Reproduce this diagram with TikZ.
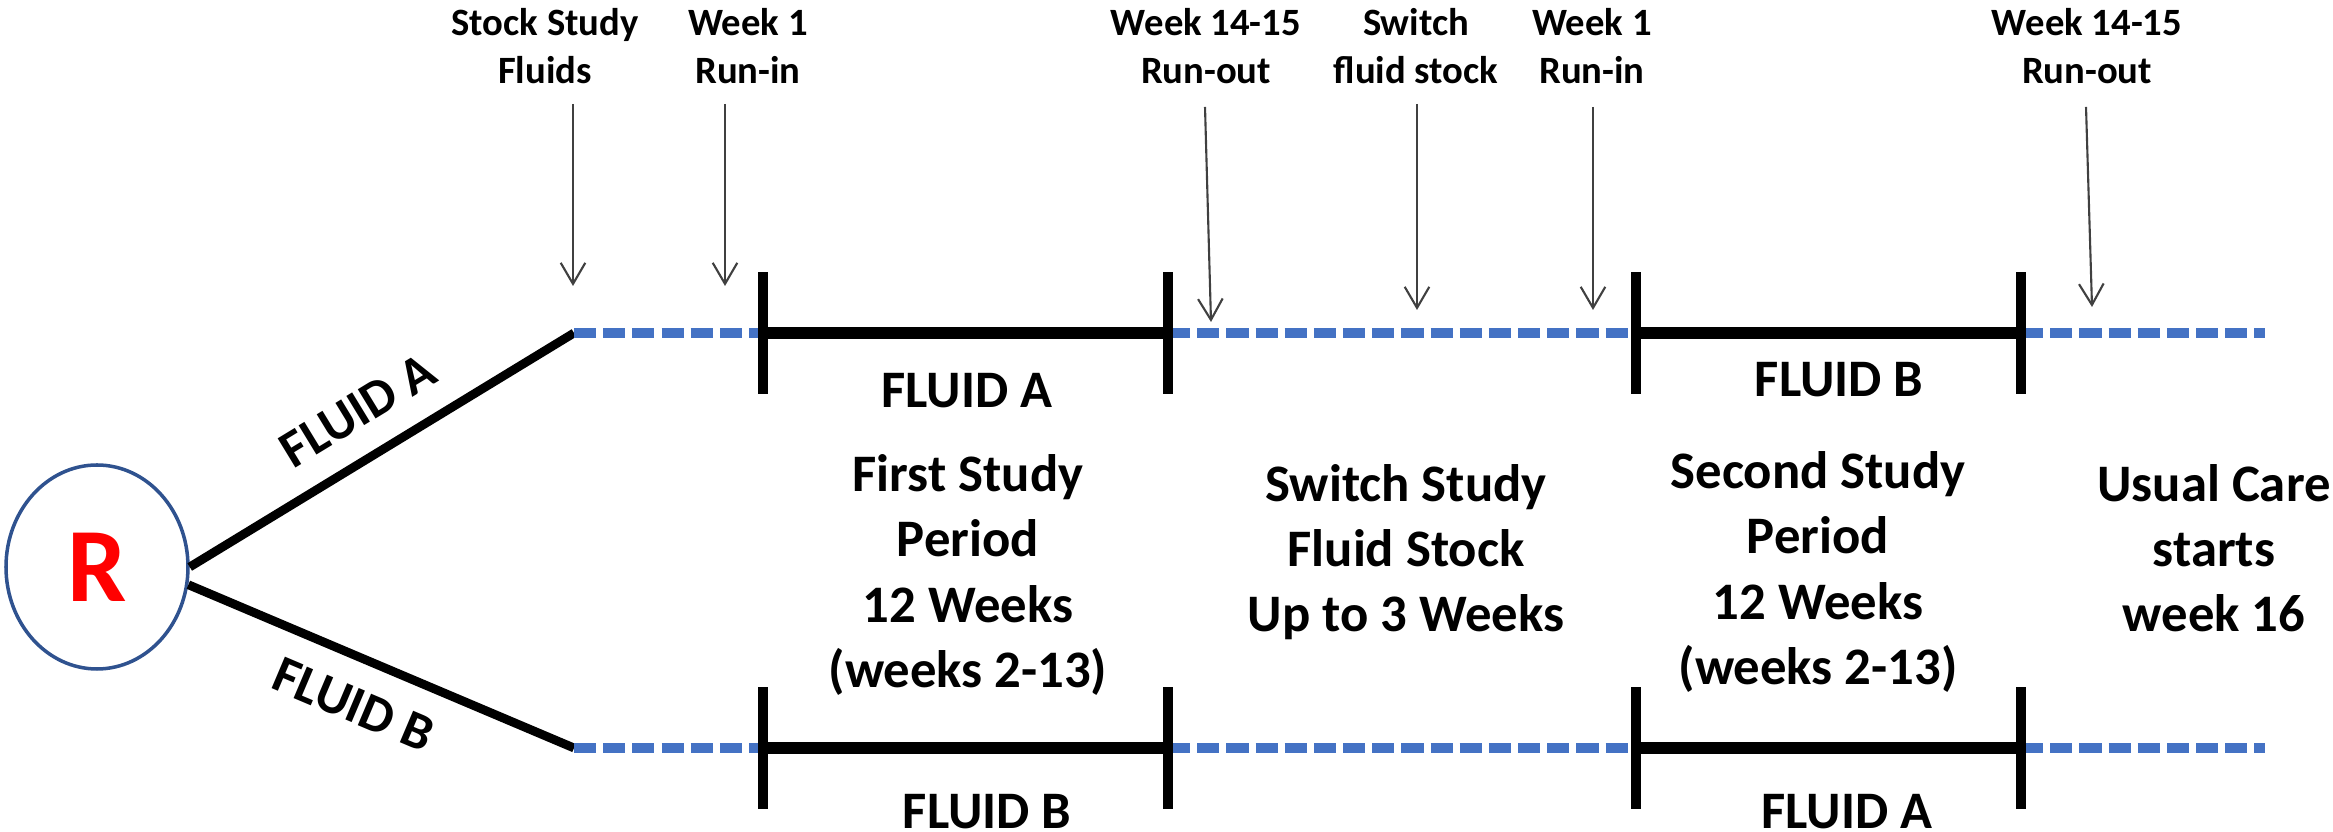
\documentclass[tikz,border=0pt]{standalone}
\usepackage{fontspec}
\setmainfont{Carlito}
\usetikzlibrary{arrows.meta,shapes.geometric}
\definecolor{fluidblue}{HTML}{4472C4}
\definecolor{ringblue}{HTML}{2F528F}

\tikzset{
  period/.style={line width=3.4pt},
  gapline/.style={line width=2.8pt,fluidblue,dash pattern=on 6.3pt off 2pt},
  tickmark/.style={line width=3pt},
  branch/.style={line width=2.5pt},
  marker/.style={draw=black!75,line width=.6pt,-{Straight Barb[length=6pt,width=7pt]}},
  toplabel/.style={align=center,font=\fontsize{11}{13.7}\selectfont\bfseries},
  midlabel/.style={align=center,font=\fontsize{15}{18.5}\selectfont\bfseries},
}

\begin{document}
\begin{tikzpicture}
    \useasboundingbox (0,0) rectangle (23.33,8.32);
      \node[ellipse,draw=ringblue,line width=1pt,minimum width=1.82cm,minimum height=2.04cm,text=red,font=\fontsize{30}{34}\selectfont\bfseries] (R) at (0.97,2.65) {R};
      \coordinate (ua) at (5.74,4.99);
      \coordinate (la) at (5.74,0.84);
    % branches
    \draw[branch] (R.east) -- node[sloped,pos=.5,anchor=south,inner sep=7pt,font=\fontsize{15}{18}\selectfont\bfseries] (brA) {FLUID A} (ua);
    \draw[branch] (R.-11) -- node[sloped,pos=.475,anchor=north,inner sep=7pt,font=\fontsize{15}{18}\selectfont\bfseries] (brB) {FLUID B} (la);
    % timelines
    \draw[gapline] (ua) -- (7.63,4.99);
    \draw[gapline] (11.68,4.99) -- (16.36,4.99);
    \draw[gapline] (20.21,4.99) -- (22.65,4.99);
    \draw[gapline] (la) -- (7.63,0.84);
    \draw[gapline] (11.68,0.84) -- (16.36,0.84);
    \draw[gapline] (20.21,0.84) -- (22.65,0.84);
    \draw[period] (7.63,4.99) -- (11.68,4.99);
    \draw[period] (16.36,4.99) -- (20.21,4.99);
    \draw[period] (7.63,0.84) -- (11.68,0.84);
    \draw[period] (16.36,0.84) -- (20.21,0.84);
    \foreach \x in {7.63,11.68,16.36,20.21}{
      \draw[tickmark] (\x,4.38) -- (\x,5.60);
      \draw[tickmark] (\x,0.23) -- (\x,1.45);
    }
    % labels on top
      \node[toplabel] (stock) at (5.45,7.86) {Stock Study\\Fluids};
      \node[toplabel] (runinA) at (7.48,7.86) {Week 1\\Run-in};
      \node[toplabel] (runoutA) at (12.06,7.86) {Week 14-15\\Run-out};
      \node[toplabel] (switch) at (14.16,7.86) {Switch\\fluid stock};
      \node[toplabel] (runinB) at (15.92,7.86) {Week 1\\Run-in};
      \node[toplabel] (runoutB) at (20.87,7.86) {Week 14-15\\Run-out};
      \coordinate (s1) at (5.73,7.28);   \coordinate (e1) at (5.73,5.46);
      \coordinate (s2) at (7.25,7.28);   \coordinate (e2) at (7.25,5.46);
      \coordinate (s3) at (12.05,7.25);  \coordinate (e3) at (12.11,5.10);
      \coordinate (s4) at (14.17,7.28);  \coordinate (e4) at (14.17,5.22);
      \coordinate (s5) at (15.93,7.25);  \coordinate (e5) at (15.93,5.22);
      \coordinate (s6) at (20.86,7.25);  \coordinate (e6) at (20.92,5.25);
    \draw[marker] (s1) -- (e1);
    \draw[marker] (s2) -- (e2);
    \draw[marker] (s3) -- (e3);
    \draw[marker] (s4) -- (e4);
    \draw[marker] (s5) -- (e5);
    \draw[marker] (s6) -- (e6);
    % periods
      \node[midlabel] (fluidA1) at (9.67,4.41) {FLUID A};
      \node[midlabel] (fluidB1) at (9.87,0.20) {FLUID B};
      \node[midlabel] (fluidB2) at (18.39,4.52) {FLUID B};
      \node[midlabel] (fluidA2) at (18.47,0.20) {FLUID A};
      \node[midlabel] (first) at (9.68,2.57) {First Study\\Period\\12 Weeks\\(weeks 2-13)};
      \node[midlabel] (swap) at (14.06,2.80) {Switch Study\\Fluid Stock\\Up to 3 Weeks};
      \node[midlabel] (second) at (18.18,2.60) {Second Study\\Period\\12 Weeks\\(weeks 2-13)};
      \node[midlabel] (usual) at (22.14,2.84) {Usual Care\\starts\\week 16};
\end{tikzpicture}
\end{document}
